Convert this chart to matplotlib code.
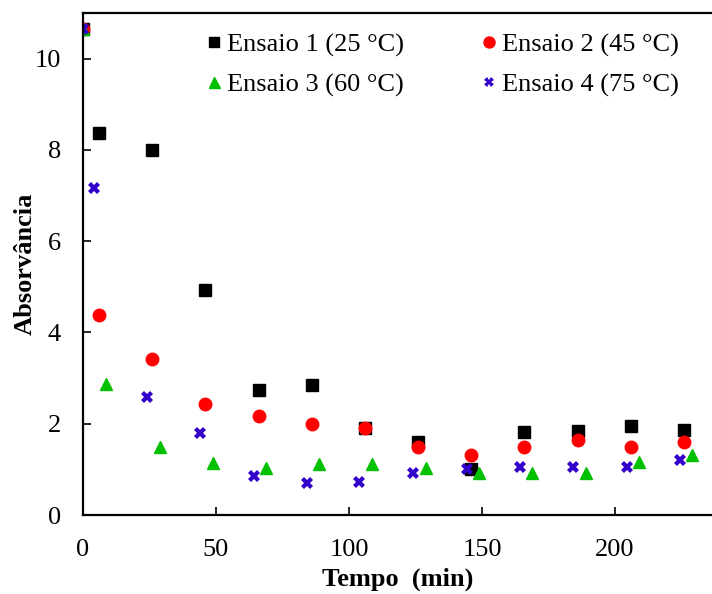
import matplotlib
matplotlib.use("Agg")
from matplotlib import pyplot as plt

plt.rcParams['font.family'] = ['Liberation Serif', 'DejaVu Serif']

# Ensaio 1 (25 °C)
t1 = [0, 6, 26, 46, 66, 86, 106, 126, 146, 166, 186, 206, 226]
a1 = [10.65, 8.37, 7.99, 4.93, 2.74, 2.84, 1.90, 1.61, 1.00, 1.81, 1.84, 1.95, 1.86]
# Ensaio 2 (45 °C)
t2 = [0, 6, 26, 46, 66, 86, 106, 126, 146, 166, 186, 206, 226]
a2 = [10.65, 4.39, 3.42, 2.44, 2.18, 1.99, 1.90, 1.49, 1.32, 1.49, 1.65, 1.48, 1.59]
# Ensaio 3 (60 °C)
t3 = [0, 8.7, 28.8, 48.8, 68.7, 88.8, 108.8, 128.9, 148.9, 168.9, 189, 209, 229]
a3 = [10.65, 2.88, 1.48, 1.13, 1.02, 1.11, 1.12, 1.03, 0.91, 0.91, 0.91, 1.16, 1.32]
# Ensaio 4 (75 °C)
t4 = [0, 4.1, 23.9, 44, 64.2, 84.1, 103.9, 124.2, 144.2, 164.3, 184.3, 204.4, 224.4]
a4 = [10.65, 7.16, 2.59, 1.79, 0.86, 0.70, 0.72, 0.93, 1.01, 1.06, 1.06, 1.05, 1.21]

labels = ["Ensaio 1 (25 °C)", "Ensaio 2 (45 °C)", "Ensaio 3 (60 °C)", "Ensaio 4 (75 °C)"]

fig = plt.figure(figsize=(7.12, 5.94), dpi=100)
ax = fig.add_axes([83/712, 79/594, 629/712, 502/594])

ax.plot(t1, a1, 's', color='black', markersize=8.5, label=labels[0], linestyle='none')
ax.plot(t2, a2, 'o', color='#ff0000', markersize=9, label=labels[1], linestyle='none')
ax.plot(t3, a3, '^', color='#00c000', markersize=9, label=labels[2], linestyle='none')
ax.plot(t4, a4, 'X', color='#3300cc', markersize=8, markeredgewidth=0, label=labels[3], linestyle='none')

ax.set_xlim(0, 236.5)
ax.set_ylim(0, 11)
ax.set_xticks([0, 50, 100, 150, 200])
ax.set_yticks([0, 2, 4, 6, 8, 10])
ax.tick_params(direction='in', length=6, width=1.2, labelsize=19)
ax.tick_params(axis='x', pad=17)
ax.tick_params(axis='y', pad=16)
ax.spines['right'].set_visible(False)
for s in ['left', 'bottom', 'top']:
    ax.spines[s].set_linewidth(1.6)

ax.set_xlabel("Tempo  (min)", fontsize=19, fontweight='bold', labelpad=5)
ax.set_ylabel("Absorvância", fontsize=19, fontweight='bold', labelpad=-2)

handles, labs = ax.get_legend_handles_labels()
order = [0, 2, 1, 3]
ax.legend([handles[i] for i in order], [labs[i] for i in order], ncol=2, frameon=False,
          fontsize=19, loc='upper left', bbox_to_anchor=(206/712, 1 - 33/594),
          bbox_transform=fig.transFigure, borderaxespad=0, borderpad=0,
          handletextpad=0.2, columnspacing=2.9, handlelength=0.6, markerscale=0.88,
          labelspacing=0.6)

fig.savefig("out.png", dpi=100)
